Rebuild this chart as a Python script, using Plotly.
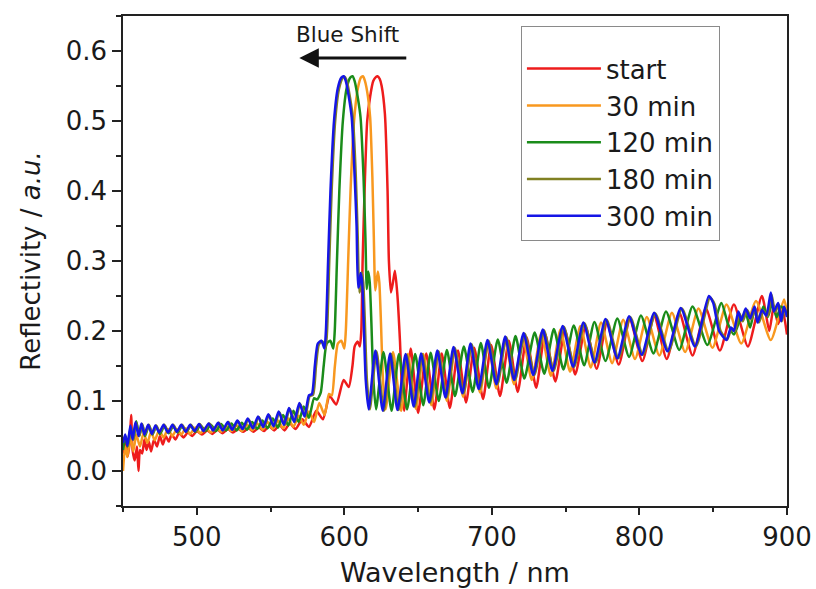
import plotly.graph_objects as go

# ---------------- data ----------------
wl_start = [450, 451.5, 453, 454.5, 455.5, 456.5, 458, 459.5, 460.5, 461.5,
            463, 464.5, 466, 467.5, 469, 471, 473, 475, 477, 479,
            481, 483, 485.5, 488, 491, 494, 497, 500, 503.5, 507,
            510.5, 514, 517.5, 521, 524.5, 528, 531.5, 535, 538.5, 542,
            545.5, 549, 552.5, 556, 559.5, 563, 567, 571.5, 576, 581,
            585.5, 590, 594.5, 599.5, 603, 605.5, 607, 609, 610.5, 611.5,
            612.4, 614, 615.5, 617.5, 619.6, 621.5, 622.5, 624, 625.3, 627.5,
            629.3, 630.2, 631.6, 633, 634.3, 635.9, 637.7, 639, 640.5,
            645, 650, 655.5, 661, 666, 671.5, 677, 682.5, 688, 694,
            699.5, 705.5, 711.5, 717.5, 723.5, 730, 736, 743, 749.5, 756.5,
            763.5, 771, 778, 786, 793.5, 802, 810, 818.5, 827, 836,
            845, 854.5, 864, 873.5, 883, 888, 891, 894, 897, 900]
r_start = [0.025, 0.045, 0.02, 0.04, 0.08, 0.03, 0.015, 0.035, 0.0, 0.03,
           0.025, 0.045, 0.03, 0.042, 0.028, 0.045, 0.035, 0.05, 0.038, 0.05,
           0.042, 0.052, 0.045, 0.054, 0.048, 0.055, 0.05, 0.057, 0.052, 0.058,
           0.053, 0.059, 0.054, 0.06, 0.055, 0.06, 0.056, 0.061, 0.056, 0.062,
           0.057, 0.064, 0.058, 0.066, 0.058, 0.068, 0.06, 0.074, 0.063, 0.086,
           0.074, 0.107, 0.095, 0.13, 0.12, 0.15, 0.178, 0.185, 0.178, 0.2,
           0.3, 0.42, 0.5, 0.535, 0.557, 0.563, 0.564, 0.56, 0.55, 0.51,
           0.4, 0.3, 0.255, 0.27, 0.286, 0.253, 0.186, 0.12, 0.086,
           0.175, 0.083, 0.168, 0.088, 0.168, 0.09, 0.172, 0.098, 0.176, 0.103,
           0.18, 0.107, 0.186, 0.113, 0.191, 0.119, 0.196, 0.128, 0.201, 0.138,
           0.206, 0.146, 0.211, 0.152, 0.216, 0.157, 0.221, 0.16, 0.226, 0.165,
           0.232, 0.172, 0.238, 0.178, 0.25, 0.2, 0.235, 0.21, 0.23, 0.195]

wl_30 = [450, 451.5, 453, 455, 457, 459, 461.5, 464, 466.5, 469,
         471.5, 474.5, 477.5, 480.5, 483.5, 486.5, 489.5, 492.5, 495.5, 499,
         502.5, 506, 509.5, 513, 516.5, 520, 523.5, 527, 530.5, 534,
         537.5, 541, 544.5, 548, 551.5, 555, 558.5, 562, 565.5, 569,
         572.5, 576, 579.5, 583, 586.6, 589.6, 591.5, 593.6, 595.6, 598,
         600, 601, 602.6, 604.2, 606.6, 609.2, 611.2, 612.6, 614, 616,
         617.5, 619, 620, 621, 622.7, 623.7, 624.7, 626.2, 628,
         633, 638.5, 643, 648.5, 653.5, 659, 664, 669.5, 675, 680.5,
         686, 692, 697.5, 703, 709, 715, 721, 727, 733.5, 740,
         746.5, 753, 760, 767, 774, 781.5, 789, 797, 805, 813.5,
         822, 831, 840, 849.5, 859, 869, 879, 889, 898, 900]
r_30 = [0.0, 0.035, 0.02, 0.05, 0.028, 0.052, 0.035, 0.055, 0.04, 0.056,
        0.044, 0.058, 0.048, 0.06, 0.05, 0.06, 0.052, 0.061, 0.053, 0.062,
        0.054, 0.062, 0.055, 0.063, 0.056, 0.064, 0.057, 0.065, 0.057, 0.066,
        0.058, 0.068, 0.059, 0.07, 0.06, 0.072, 0.061, 0.075, 0.063, 0.079,
        0.066, 0.085, 0.07, 0.097, 0.08, 0.11, 0.108, 0.15, 0.182, 0.186,
        0.175, 0.2, 0.3, 0.4, 0.5, 0.547, 0.562, 0.564, 0.557, 0.535,
        0.505, 0.42, 0.333, 0.258, 0.285, 0.27, 0.22, 0.13, 0.088,
        0.17, 0.086, 0.167, 0.089, 0.167, 0.094, 0.17, 0.1, 0.174, 0.106,
        0.178, 0.112, 0.182, 0.118, 0.187, 0.124, 0.192, 0.13, 0.197, 0.136,
        0.202, 0.142, 0.207, 0.148, 0.212, 0.154, 0.216, 0.16, 0.22, 0.165,
        0.226, 0.17, 0.232, 0.176, 0.238, 0.182, 0.243, 0.187, 0.245, 0.225]

wl_120 = [450, 451.5, 453, 455, 457, 459, 461, 463, 465, 467.5,
          470, 472.5, 475, 478, 481, 484, 487, 490, 493, 496,
          499, 502.5, 506, 509.5, 513, 516.5, 520, 523.5, 527, 530.5,
          534, 537.5, 541, 544.5, 548, 551.5, 555, 558.5, 562, 565.5,
          569, 572.5, 576, 579.5, 581.5, 584, 586, 588, 590.5, 592.5,
          593.5, 595, 596.6, 599, 601.6, 604, 605.6, 607, 609, 611,
          613, 614.3, 615.2, 616.2, 617.2, 618.2, 619.7, 621.5,
          626.5, 632, 637, 642.5, 648, 653.5, 658.5, 664, 669.5, 675,
          681, 687, 692.5, 698, 704, 710, 716, 722, 729, 735.5,
          742, 748.5, 755.5, 762.5, 769.5, 777, 785, 793, 801, 809.5,
          818, 827, 836, 846, 855.5,
          860, 864, 868, 872, 875, 878, 881, 884, 887, 890,
          893, 896, 900]
r_120 = [0.03, 0.05, 0.035, 0.06, 0.045, 0.071, 0.05, 0.066, 0.05, 0.065,
         0.052, 0.064, 0.053, 0.064, 0.054, 0.064, 0.055, 0.064, 0.056, 0.065,
         0.056, 0.065, 0.057, 0.066, 0.057, 0.067, 0.058, 0.068, 0.058, 0.069,
         0.059, 0.07, 0.06, 0.072, 0.061, 0.075, 0.062, 0.08, 0.065, 0.086,
         0.07, 0.092, 0.076, 0.104, 0.102, 0.112, 0.15, 0.182, 0.186, 0.175,
         0.2, 0.3, 0.4, 0.5, 0.547, 0.562, 0.564, 0.557, 0.535, 0.505,
         0.42, 0.333, 0.26, 0.285, 0.27, 0.22, 0.13, 0.088,
         0.17, 0.086, 0.167, 0.088, 0.167, 0.094, 0.169, 0.1, 0.173, 0.107,
         0.178, 0.113, 0.183, 0.119, 0.188, 0.126, 0.193, 0.132, 0.198, 0.139,
         0.203, 0.145, 0.208, 0.151, 0.213, 0.157, 0.218, 0.163, 0.222, 0.168,
         0.228, 0.173, 0.235, 0.18, 0.24,
         0.21, 0.195, 0.215, 0.225, 0.205, 0.23, 0.215, 0.235, 0.22, 0.24,
         0.22, 0.235, 0.225]

wl_180 = [450, 451.5, 453.5, 455.5, 457, 459, 461, 463, 465, 467.5,
          470, 472.5, 475, 478, 481, 484, 487, 490, 493, 496,
          499, 502, 505, 508.5, 511.5, 515, 518, 521.5, 524.5, 528,
          531.5, 535, 538.5, 542, 545.5, 549, 552.5, 556, 559.5, 563,
          566.5, 570, 573.5, 576.5, 578.8, 580.8, 582.8, 585.3, 587.3, 588.3,
          589.8, 591.4, 593.8, 596.4, 598.8, 600.4, 601.8, 603.8, 605.8, 607.8,
          609.1, 610.2, 611, 611.8, 612.8, 613.8, 615.3, 617.3,
          621.8, 626.8, 631.8, 636.8, 642.3, 647.8, 652.8, 658.3, 663.8, 669.3,
          674.8, 680.8, 686.3, 691.8, 697.8, 703.8, 709.8, 715.8, 722.3, 728.8,
          735.3, 741.8, 748.8, 755.8, 762.8, 770.3, 777.8, 785.8, 793.8, 802.3,
          810.8, 819.8, 828.8, 838.3, 847.8,
          851, 855, 859.5, 862.5, 865, 867.5, 870, 873, 876, 878.5,
          881, 884, 887, 889.5, 892, 894.5, 896.5, 898.5, 900]
r_180 = [0.04, 0.05, 0.036, 0.063, 0.045, 0.069, 0.05, 0.067, 0.052, 0.066,
         0.053, 0.065, 0.055, 0.066, 0.055, 0.066, 0.056, 0.066, 0.056, 0.066,
         0.057, 0.067, 0.057, 0.068, 0.058, 0.069, 0.058, 0.07, 0.059, 0.071,
         0.06, 0.074, 0.061, 0.077, 0.063, 0.08, 0.064, 0.084, 0.066, 0.089,
         0.07, 0.096, 0.078, 0.107, 0.109, 0.15, 0.181, 0.185, 0.175, 0.2,
         0.3, 0.4, 0.5, 0.546, 0.561, 0.563, 0.556, 0.534, 0.504, 0.42,
         0.333, 0.255, 0.262, 0.284, 0.27, 0.22, 0.13, 0.088,
         0.171, 0.086, 0.167, 0.087, 0.166, 0.092, 0.167, 0.098, 0.171, 0.105,
         0.176, 0.111, 0.181, 0.117, 0.186, 0.124, 0.191, 0.13, 0.196, 0.137,
         0.201, 0.143, 0.206, 0.149, 0.211, 0.155, 0.216, 0.161, 0.22, 0.166,
         0.225, 0.171, 0.232, 0.178, 0.248,
         0.238, 0.2, 0.188, 0.204, 0.2, 0.226, 0.214, 0.23, 0.217, 0.233,
         0.212, 0.229, 0.221, 0.252, 0.227, 0.238, 0.214, 0.233, 0.22]

wl_300 = [450, 451.5, 453, 455, 456.5, 458.5, 460.5, 462.5, 464.5, 467,
          469.5, 472, 474.5, 477.5, 480.5, 483.5, 486.5, 489.5, 492.5, 495.5,
          498.5, 501.5, 504.5, 508, 511, 514.5, 517.5, 521, 524, 527.5,
          531, 534.5, 538, 541.5, 545, 548.5, 552, 555.5, 559, 562.5,
          566, 569.5, 573, 576, 578, 580, 582, 584.5, 586.5, 587.5,
          589, 590.6, 593, 595.6, 598, 599.6, 601, 603, 605, 607,
          608.3, 609.4, 610.2, 611, 612, 613, 614.5, 616.5,
          621, 626, 631, 636, 641.5, 647, 652, 657.5, 663, 668.5,
          674, 680, 685.5, 691, 697, 703, 709, 715, 721.5, 728,
          734.5, 741, 748, 755, 762, 769.5, 777, 785, 793, 801.5,
          810, 819, 828, 837.5, 847,
          850, 854, 859, 862, 864, 867, 869, 872, 875, 878,
          880, 883, 886, 889, 891, 894, 896, 898, 900]
r_300 = [0.04, 0.052, 0.036, 0.065, 0.045, 0.07, 0.05, 0.068, 0.052, 0.066,
         0.053, 0.065, 0.055, 0.066, 0.055, 0.066, 0.056, 0.066, 0.056, 0.066,
         0.057, 0.067, 0.057, 0.068, 0.058, 0.069, 0.058, 0.07, 0.059, 0.072,
         0.06, 0.075, 0.061, 0.078, 0.063, 0.081, 0.064, 0.085, 0.066, 0.09,
         0.07, 0.097, 0.078, 0.108, 0.11, 0.15, 0.182, 0.186, 0.175, 0.2,
         0.3, 0.4, 0.5, 0.547, 0.562, 0.564, 0.557, 0.535, 0.505, 0.42,
         0.35, 0.262, 0.266, 0.283, 0.272, 0.22, 0.13, 0.088,
         0.172, 0.086, 0.168, 0.087, 0.167, 0.092, 0.168, 0.098, 0.172, 0.105,
         0.177, 0.111, 0.182, 0.117, 0.187, 0.124, 0.192, 0.13, 0.197, 0.137,
         0.202, 0.143, 0.207, 0.149, 0.212, 0.155, 0.217, 0.161, 0.221, 0.166,
         0.226, 0.171, 0.233, 0.178, 0.25,
         0.24, 0.2, 0.187, 0.205, 0.2, 0.228, 0.215, 0.232, 0.218, 0.235,
         0.212, 0.23, 0.222, 0.255, 0.228, 0.24, 0.214, 0.235, 0.22]

series_names = ["start", "30 min", "120 min", "180 min", "300 min"]
series_x = [wl_start, wl_30, wl_120, wl_180, wl_300]
series_y = [r_start, r_30, r_120, r_180, r_300]
colors = ["#ee1c1c", "#f8981f", "#1a8c1a", "#808022", "#1515e6"]

x_ticks = [500, 600, 700, 800, 900]
y_ticks = [0.0, 0.1, 0.2, 0.3, 0.4, 0.5, 0.6]

for n, xs, ys in zip(series_names, series_x, series_y):
    if len(xs) != len(ys):
        raise ValueError(f"{n}: {len(xs)} x vs {len(ys)} y")

# ---------------- figure ----------------
FONT = "DejaVu Sans, Arial, sans-serif"
fig = go.Figure()
for n, xs, ys, c in zip(series_names, series_x, series_y, colors):
    fig.add_trace(go.Scatter(x=xs, y=ys, mode="lines", name=n,
                             line=dict(color=c, width=2.5, shape="spline", smoothing=0.6)))

axis_common = dict(showline=True, linecolor="#222222", linewidth=1.6, mirror=True,
                   ticks="outside", tickwidth=1.6, tickcolor="#222222",
                   showgrid=False, zeroline=False, automargin=False,
                   tickfont=dict(family=FONT, size=26, color="#1a1a1a"))

fig.update_xaxes(range=[450, 900], tickvals=x_ticks, ticklen=7,
                 minor=dict(ticks="outside", ticklen=4, tickwidth=1.6, tickcolor="#222222",
                            tickvals=[450, 550, 650, 750, 850]),
                 title=dict(text="Wavelength / nm", font=dict(family=FONT, size=27, color="#1a1a1a"),
                            standoff=12),
                 **axis_common)
fig.update_yaxes(range=[-0.05, 0.65], tickvals=y_ticks, tickformat=".1f", ticklen=9,
                 minor=dict(ticks="outside", ticklen=5, tickwidth=1.6, tickcolor="#222222",
                            tickvals=[-0.05, 0.05, 0.15, 0.25, 0.35, 0.45, 0.55, 0.65]),
                 title=dict(text="Reflectivity / <i>a.u.</i>", font=dict(family=FONT, size=26, color="#1a1a1a"),
                            standoff=18),
                 **axis_common)

# "Blue Shift" label and arrow
fig.add_annotation(x=602, y=0.624, xref="x", yref="y", text="Blue Shift", showarrow=False,
                   font=dict(family=FONT, size=21.5, color="#1a1a1a"))
fig.add_annotation(x=569.5, y=0.59, ax=643, ay=0.59, xref="x", yref="y", axref="x", ayref="y",
                   text="", showarrow=True, arrowhead=2, arrowsize=1.3, arrowwidth=3,
                   arrowcolor="#111111")

fig.update_layout(
    width=816, height=589,
    margin=dict(l=123, r=29, t=16, b=83),
    plot_bgcolor="white", paper_bgcolor="white",
    font=dict(family=FONT, color="#1a1a1a"),
    showlegend=True,
    legend=dict(x=0.599, y=0.98, xanchor="left", yanchor="top",
                bgcolor="rgba(255,255,255,0)", bordercolor="#8a8a8a", borderwidth=1.2,
                font=dict(family=FONT, size=26, color="#1a1a1a"),
                itemwidth=74, tracegroupgap=0,
                title=dict(text=" ", font=dict(size=14))),
)

fig.write_html("out.html")
